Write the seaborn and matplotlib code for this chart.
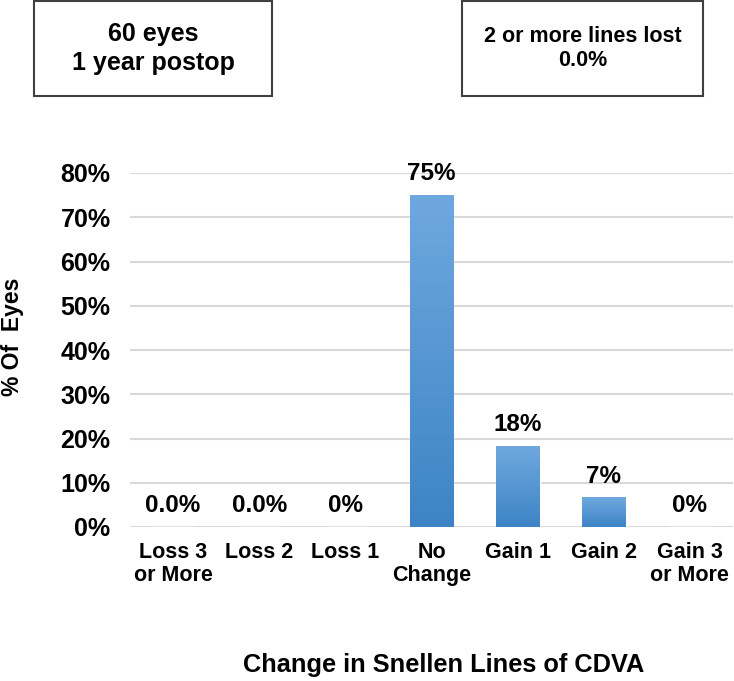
"""
CDVA change chart: % of eyes by change in Snellen lines at 1 year postop.
"""

import numpy as np
import pandas as pd
import matplotlib.pyplot as plt
from matplotlib.patches import Rectangle
import seaborn as sns

# Data
CATEGORIES = ['Loss 3\nor More', 'Loss 2', 'Loss 1', 'No\nChange', 'Gain 1', 'Gain 2', 'Gain 3\nor More']
PERCENT_EYES = [0.0, 0.0, 0.0, 75.0, 18.3, 6.7, 0.0]
BAR_LABELS = ['0.0%', '0.0%', '0%', '75%', '18%', '7%', '0%']
Y_TICKS = [0, 10, 20, 30, 40, 50, 60, 70, 80]
LEFT_BOX_TEXT = '60 eyes\n1 year postop'
RIGHT_BOX_TEXT = '2 or more lines lost\n0.0%'

# Styling
FONT = 'Liberation Sans'
BAR_TOP_COLOR = '#6fa8de'
BAR_BOTTOM_COLOR = '#3d84c6'
GRID_COLOR = '#d9d9d9'
FIG_W, FIG_H = 734, 681


def add_gradient(ax, patches):
    """Paints a vertical blue gradient inside each bar patch."""
    top = np.array(plt.matplotlib.colors.to_rgb(BAR_TOP_COLOR))
    bottom = np.array(plt.matplotlib.colors.to_rgb(BAR_BOTTOM_COLOR))
    grad = np.linspace(0, 1, 256)[:, None, None]
    img = top * (1 - grad) + bottom * grad  # row 0 = top
    for p in patches:
        h = p.get_height()
        if h <= 0:
            continue
        x0 = p.get_x()
        w = p.get_width()
        im = ax.imshow(img, extent=(x0, x0 + w, 0, h), aspect='auto',
                       origin='upper', zorder=3, interpolation='bilinear')
        im.set_clip_path(p)


def add_box(fig, x0, y0, x1, y1, text, size):
    """Draws a framed text box using pixel coordinates (from top-left)."""
    rect = Rectangle((x0 / FIG_W, 1 - y1 / FIG_H), (x1 - x0) / FIG_W, (y1 - y0) / FIG_H,
                     transform=fig.transFigure, facecolor='white',
                     edgecolor='#404040', linewidth=1.5)
    fig.add_artist(rect)
    fig.text((x0 + x1) / 2 / FIG_W, 1 - (y0 + y1) / 2 / FIG_H, text,
             ha='center', va='center', multialignment='center',
             fontsize=size, fontweight='bold', family=FONT, linespacing=1.25)


def main():
    sns.set_style('white')
    plt.rcParams['font.family'] = [FONT, 'DejaVu Sans']
    plt.rcParams['text.color'] = 'black'
    plt.rcParams['xtick.color'] = 'black'
    plt.rcParams['ytick.color'] = 'black'

    df = pd.DataFrame({'change': CATEGORIES, 'pct': PERCENT_EYES})

    fig = plt.figure(figsize=(FIG_W / 100, FIG_H / 100), dpi=100)
    ax = fig.add_axes([130 / FIG_W, 1 - 527 / FIG_H, 603 / FIG_W, 354 / FIG_H])

    sns.barplot(data=df, x='change', y='pct', color=BAR_BOTTOM_COLOR,
                width=0.51, ax=ax, zorder=2)
    bars = list(ax.patches)
    add_gradient(ax, bars)

    # Value labels above bars
    for p, lab in zip(bars, BAR_LABELS):
        ax.annotate(lab, (p.get_x() + p.get_width() / 2, p.get_height()),
                    xytext=(0, 7), textcoords='offset points',
                    ha='center', va='bottom', fontsize=17.5, fontweight='bold',
                    annotation_clip=False, zorder=5)

    # Axes / grid
    ax.set_ylim(0, 80)
    ax.set_xlim(-0.5, len(CATEGORIES) - 0.5)
    ax.set_yticks(Y_TICKS)
    ax.set_yticklabels([f'{t}%' for t in Y_TICKS], fontsize=18, fontweight='bold')
    ax.set_xticks(range(len(CATEGORIES)))
    ax.set_xticklabels(CATEGORIES, fontsize=15.5, fontweight='bold', linespacing=1.1)
    ax.tick_params(axis='y', length=0, pad=14)
    ax.tick_params(axis='x', length=0, pad=11)
    ax.yaxis.grid(True, color=GRID_COLOR, linewidth=1.5, zorder=0)
    ax.set_axisbelow(True)
    for s in ax.spines.values():
        s.set_visible(False)
    ax.set_xlabel('')
    ax.set_ylabel('')

    # Axis titles
    fig.text(13 / FIG_W, 1 - 337 / FIG_H, '% Of  Eyes', rotation=90,
             ha='center', va='center', fontsize=16.5, fontweight='bold')
    fig.text(444 / FIG_W, 1 - 665 / FIG_H, 'Change in Snellen Lines of CDVA',
             ha='center', va='center', fontsize=18.3, fontweight='bold')

    # Info boxes
    add_box(fig, 34, 1, 272, 96, LEFT_BOX_TEXT, 18)
    add_box(fig, 462, 1, 703, 96, RIGHT_BOX_TEXT, 15.5)

    fig.savefig('out.png', dpi=100)
    plt.close(fig)


if __name__ == "__main__":
    main()
